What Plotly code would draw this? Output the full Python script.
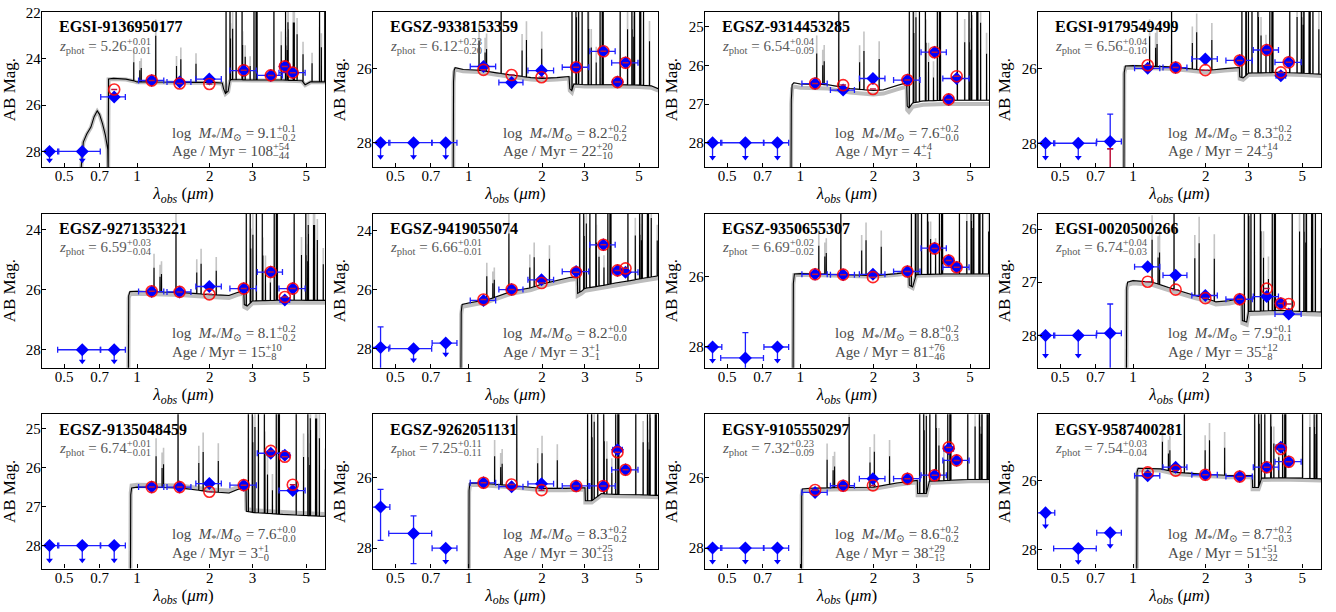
import numpy as np
import plotly.graph_objects as go

# ---------------- data ----------------
filter_names = ["F435W", "F606W", "F814W", "F115W", "F150W", "F200W", "F277W", "F356W", "F410M", "F444W"]
filter_wave = [0.435, 0.594, 0.805, 1.150, 1.500, 1.990, 2.760, 3.570, 4.080, 4.400]
filter_lo = [0.390, 0.470, 0.708, 1.015, 1.330, 1.750, 2.420, 3.140, 3.900, 3.860]
filter_hi = [0.475, 0.705, 0.895, 1.290, 1.670, 2.230, 3.110, 3.990, 4.270, 4.950]

galaxy_ids = ["EGSI-9136950177", "EGSZ-9338153359", "EGSZ-9314453285", "EGSI-9179549499",
              "EGSZ-9271353221", "EGSZ-9419055074", "EGSZ-9350655307", "EGSI-0020500266",
              "EGSZ-9135048459", "EGSZ-9262051131", "EGSY-9105550297", "EGSY-9587400281"]
z_text = ["5.26", "6.12", "6.54", "6.56", "6.59", "6.66", "6.69", "6.74", "6.74", "7.25", "7.32", "7.54"]
z_hi = ["+0.01", "+0.23", "+0.04", "+0.04", "+0.03", "+0.01", "+0.02", "+0.04", "+0.01", "+0.11", "+0.23", "+0.03"]
z_lo = ["−0.01", "−0.20", "−0.09", "−0.10", "−0.04", "−0.01", "−0.02", "−0.03", "−0.01", "−0.11", "−0.09", "−0.04"]
mass_text = ["9.1", "8.2", "7.6", "8.3", "8.1", "8.2", "8.8", "7.9", "7.6", "8.3", "8.6", "8.7"]
mass_hi = ["+0.1", "+0.2", "+0.2", "+0.2", "+0.2", "+0.0", "+0.2", "+0.1", "+0.0", "+0.2", "+0.2", "+0.2"]
mass_lo = ["−0.2", "−0.2", "−0.0", "−0.2", "−0.2", "−0.0", "−0.3", "−0.1", "−0.0", "−0.2", "−0.2", "−0.3"]
age_text = ["108", "22", "4", "24", "15", "3", "81", "35", "3", "30", "38", "51"]
age_hi = ["+54", "+20", "+4", "+14", "+10", "+1", "+76", "+12", "+1", "+25", "+29", "+51"]
age_lo = ["−44", "−10", "−1", "−9", "−8", "−1", "−46", "−8", "−0", "−13", "−15", "−32"]

# observed photometry (AB mag), None = no coverage
obs_mag = [
    [28.0, 28.0, 25.65, 24.94, 25.00, 24.88, 24.51, 24.72, 24.34, 24.60],
    [28.0, 28.0, 28.0, 25.95, 26.38, 26.06, 25.97, 25.54, 26.37, 25.85],
    [28.0, 28.0, 28.0, 26.47, 26.64, 26.34, 26.38, 25.66, 26.88, 26.34],
    [28.0, 28.0, 27.95, 25.99, 25.97, 25.74, 25.78, 25.50, 26.19, 25.83],
    [None, 28.0, 28.0, 26.07, 26.08, 25.90, 25.97, 25.42, 26.35, 25.97],
    [27.96, 28.0, 27.81, 26.36, 25.99, 25.66, 25.38, 24.47, 25.34, 25.40],
    [28.0, 28.31, 28.0, 25.94, 25.95, 25.94, 25.86, 25.20, 25.55, 25.74],
    [28.0, 28.0, 27.96, 26.71, 26.87, 27.25, 27.32, 27.27, 27.40, 27.60],
    [28.0, 28.0, 28.0, 26.50, 26.50, 26.41, 26.45, 25.63, 25.68, 26.59],
    [26.83, 27.58, 28.0, 26.14, 26.25, 26.17, 26.23, 26.23, 25.20, 25.77],
    [28.0, 28.0, 28.0, 26.42, 26.23, 26.03, 26.03, 25.93, 25.18, 25.51],
    [26.94, 27.98, 27.52, 25.86, 25.61, 25.83, 25.88, 25.61, 25.03, 25.45],
]
# 1 = upper limit
obs_uplim = [
    [1, 1, 0, 0, 0, 0, 0, 0, 0, 0],
    [1, 1, 1, 0, 0, 0, 0, 0, 0, 0],
    [1, 1, 1, 0, 0, 0, 0, 0, 0, 0],
    [1, 1, 0, 0, 0, 0, 0, 0, 0, 0],
    [0, 1, 1, 0, 0, 0, 0, 0, 0, 0],
    [0, 1, 1, 0, 0, 0, 0, 0, 0, 0],
    [1, 0, 1, 0, 0, 0, 0, 0, 0, 0],
    [1, 1, 0, 0, 0, 0, 0, 0, 0, 0],
    [1, 1, 1, 0, 0, 0, 0, 0, 0, 0],
    [0, 0, 1, 0, 0, 0, 0, 0, 0, 0],
    [1, 1, 1, 0, 0, 0, 0, 0, 0, 0],
    [1, 1, 1, 0, 0, 0, 0, 0, 0, 0],
]
# errors towards brighter / fainter magnitudes
obs_err_bright = [
    [0, 0, 0.10, 0.05, 0.05, 0.05, 0.05, 0.05, 0.05, 0.05],
    [0, 0, 0, 0.05, 0.05, 0.05, 0.05, 0.05, 0.05, 0.05],
    [0, 0, 0, 0.05, 0.05, 0.05, 0.05, 0.05, 0.05, 0.05],
    [0, 0, 0.73, 0.05, 0.05, 0.05, 0.05, 0.05, 0.05, 0.05],
    [0, 0, 0, 0.05, 0.05, 0.05, 0.05, 0.05, 0.05, 0.05],
    [0.70, 0, 0, 0.05, 0.05, 0.05, 0.05, 0.05, 0.05, 0.05],
    [0, 0.72, 0, 0.05, 0.05, 0.05, 0.05, 0.05, 0.05, 0.05],
    [0, 0, 0.55, 0.05, 0.05, 0.05, 0.05, 0.05, 0.05, 0.05],
    [0, 0, 0, 0.05, 0.05, 0.05, 0.05, 0.05, 0.05, 0.05],
    [0.50, 0.50, 0, 0.05, 0.05, 0.05, 0.05, 0.05, 0.05, 0.05],
    [0, 0, 0, 0.05, 0.05, 0.05, 0.05, 0.05, 0.05, 0.05],
    [0, 0, 0, 0.05, 0.05, 0.05, 0.05, 0.05, 0.05, 0.05],
]
obs_err_faint = [
    [0, 0, 0.10, 0.05, 0.05, 0.05, 0.05, 0.05, 0.05, 0.05],
    [0, 0, 0, 0.05, 0.05, 0.05, 0.05, 0.05, 0.05, 0.05],
    [0, 0, 0, 0.05, 0.05, 0.05, 0.05, 0.05, 0.05, 0.05],
    [0, 0, 0.20, 0.05, 0.05, 0.05, 0.05, 0.05, 0.05, 0.05],
    [0, 0, 0, 0.05, 0.05, 0.05, 0.05, 0.05, 0.05, 0.05],
    [0.90, 0, 0, 0.05, 0.05, 0.05, 0.05, 0.05, 0.05, 0.05],
    [0, 0.80, 0, 0.05, 0.05, 0.05, 0.05, 0.05, 0.05, 0.05],
    [0, 0, 0.80, 0.05, 0.05, 0.05, 0.05, 0.05, 0.05, 0.05],
    [0, 0, 0, 0.05, 0.05, 0.05, 0.05, 0.05, 0.05, 0.05],
    [0.95, 0.86, 0, 0.05, 0.05, 0.05, 0.05, 0.05, 0.05, 0.05],
    [0, 0, 0, 0.05, 0.05, 0.05, 0.05, 0.05, 0.05, 0.05],
    [0, 0, 0, 0.05, 0.05, 0.05, 0.05, 0.05, 0.05, 0.05],
]
# model photometry (red circles)
model_mag = [
    [None, None, 25.33, 24.94, 25.07, 25.09, 24.50, 24.72, 24.33, 24.60],
    [None, None, None, 26.04, 26.18, 26.24, 25.97, 25.54, 26.37, 25.85],
    [None, None, None, 26.47, 26.51, 26.61, 26.38, 25.66, 26.88, 26.28],
    [None, None, 29.40, 25.91, 25.97, 26.04, 25.78, 25.50, 26.10, 25.83],
    [None, None, None, 26.06, 26.08, 26.16, 25.97, 25.42, 26.25, 25.97],
    [None, None, None, 26.33, 25.99, 25.77, 25.40, 24.47, 25.34, 25.27],
    [None, None, None, 25.94, 25.95, 26.02, 25.86, 25.21, 25.55, 25.74],
    [None, None, None, 26.99, 27.14, 27.30, 27.32, 27.12, 27.40, 27.41],
    [None, None, None, 26.50, 26.50, 26.62, 26.45, 25.57, 25.72, 26.44],
    [None, None, None, 26.14, 26.19, 26.35, 26.23, 26.23, 25.27, 25.77],
    [None, None, None, 26.35, 26.23, 26.22, 26.03, 25.93, 25.14, 25.51],
    [None, None, None, 25.76, 25.71, 25.83, 25.88, 25.61, 25.08, 25.45],
]
model_err_bright = [
    [0] * 10, [0] * 10, [0] * 10,
    [0, 0, 1.25, 0, 0, 0, 0, 0, 0, 0],
    [0] * 10, [0] * 10, [0] * 10, [0] * 10, [0] * 10, [0] * 10, [0] * 10, [0] * 10,
]

# best-fit model continuum, knots (um, AB mag)
spec_wave = [
    [0.585, 0.600, 0.620, 0.645, 0.665, 0.685, 0.700, 0.720, 0.740, 0.757, 0.760, 0.763, 0.80, 0.90, 0.97,
     1.00, 1.10, 1.50, 2.00, 2.25, 2.28, 2.32, 2.38, 2.42, 2.45, 3.0, 4.0, 4.8, 4.95, 5.2, 6.0],
    [0.864, 0.867, 0.872, 0.88, 0.95, 1.1, 1.3, 1.5, 1.8, 2.0, 2.3, 2.58, 2.60, 2.65, 2.7, 3.0, 4.0, 5.0, 5.6, 6.0],
    [0.915, 0.918, 0.925, 0.94, 1.0, 1.3, 1.6, 2.0, 2.2, 2.5, 2.74, 2.755, 2.8, 2.9, 3.2, 4.0, 5.0, 6.0],
    [0.917, 0.920, 0.93, 1.0, 1.4, 1.7, 2.0, 2.4, 2.75, 2.76, 2.85, 3.0, 4.0, 5.0, 6.0],
    [0.921, 0.924, 0.935, 1.0, 1.5, 2.0, 2.4, 2.6, 2.76, 2.775, 2.85, 3.0, 4.0, 5.0, 6.0],
    [0.929, 0.932, 0.94, 1.0, 1.2, 1.5, 1.8, 2.0, 2.3, 2.6, 2.79, 2.80, 2.9, 3.0, 4.0, 5.0, 6.0],
    [0.933, 0.936, 0.945, 1.0, 1.5, 2.0, 2.5, 2.80, 2.81, 2.9, 3.0, 4.0, 5.0, 6.0],
    [0.939, 0.942, 0.95, 1.0, 1.2, 1.4, 1.6, 1.8, 2.0, 2.2, 2.5, 2.82, 2.83, 2.95, 3.0, 4.0, 5.0, 6.0],
    [0.939, 0.942, 0.95, 1.0, 1.5, 2.0, 2.4, 2.6, 2.82, 2.83, 3.0, 4.0, 5.0, 6.0],
    [1.001, 1.004, 1.012, 1.1, 1.5, 2.0, 2.5, 3.0, 3.01, 3.2, 3.5, 4.0, 5.0, 6.0],
    [1.010, 1.013, 1.02, 1.1, 1.5, 2.0, 2.5, 3.03, 3.04, 3.3, 3.4, 4.0, 5.0, 6.0],
    [1.036, 1.039, 1.05, 1.3, 1.5, 2.0, 2.5, 3.11, 3.12, 3.3, 3.4, 4.0, 5.0, 6.0],
]
spec_mag = [
    [29.0, 27.6, 27.25, 26.95, 26.5, 26.25, 26.4, 26.8, 27.3, 27.9, 29.0, 24.87, 24.85, 24.88, 24.95,
     25.0, 25.0, 25.02, 25.02, 25.05, 25.3, 25.5, 25.4, 24.95, 24.9, 24.92, 24.92, 24.95, 25.12, 25.0, 25.0],
    [29.0, 26.35, 26.05, 25.98, 26.03, 26.05, 26.12, 26.18, 26.25, 26.27, 26.25, 26.22, 26.55, 26.6, 26.42, 26.44, 26.44, 26.45, 26.47, 26.55],
    [29.0, 26.9, 26.5, 26.45, 26.48, 26.5, 26.6, 26.65, 26.63, 26.52, 26.45, 27.05, 27.1, 26.97, 26.92, 26.9, 26.9, 26.9],
    [29.0, 26.1, 25.93, 25.92, 25.95, 26.0, 26.05, 26.0, 25.97, 26.22, 26.25, 26.12, 26.1, 26.12, 26.15],
    [29.0, 26.2, 26.07, 26.06, 26.1, 26.17, 26.2, 26.1, 26.05, 26.5, 26.55, 26.38, 26.35, 26.36, 26.36],
    [29.0, 26.75, 26.5, 26.45, 26.33, 26.05, 25.93, 25.8, 25.68, 25.58, 25.55, 26.12, 26.05, 25.95, 25.77, 25.63, 25.52],
    [29.0, 26.2, 25.93, 25.92, 25.95, 25.98, 25.92, 25.88, 26.25, 26.3, 25.95, 25.93, 25.93, 25.93],
    [29.0, 27.1, 27.0, 26.97, 27.0, 27.1, 27.18, 27.25, 27.3, 27.37, 27.35, 27.3, 27.72, 27.75, 27.55, 27.53, 27.55, 27.56],
    [29.0, 26.7, 26.52, 26.5, 26.52, 26.62, 26.65, 26.56, 26.5, 27.12, 27.15, 27.2, 27.23, 27.25],
    [29.0, 26.35, 26.15, 26.15, 26.22, 26.3, 26.3, 26.28, 26.65, 26.65, 26.45, 26.47, 26.48, 26.5],
    [29.0, 26.45, 26.32, 26.3, 26.28, 26.27, 26.15, 26.08, 26.45, 26.45, 26.1, 26.08, 26.05, 26.05],
    [29.0, 25.75, 25.64, 25.66, 25.76, 25.82, 25.85, 25.85, 26.2, 26.2, 25.93, 25.92, 25.93, 25.95],
]
# shift of the grey uncertainty band relative to the best fit (mag)
band_shift = [0.02, 0.05, 0.10, 0.05, 0.08, 0.08, 0.03, 0.05, -0.06, 0.05, 0.05, 0.05]

# nebular emission lines: rest wavelength (um) and peak height above continuum (mag)
line_rest_um = [0.1549, 0.1640, 0.1663, 0.1909, 0.2326, 0.2424, 0.2800, 0.3727, 0.3869, 0.3889, 0.3968,
                0.4102, 0.4340, 0.4363, 0.4471, 0.4686, 0.4861, 0.4959, 0.5007, 0.5876, 0.6300, 0.6563,
                0.6583, 0.6678, 0.6716, 0.6731, 0.7065, 0.7136, 0.7325, 0.7751, 0.8446, 0.9069, 0.9229,
                0.9531, 0.9546, 1.0049]
line_strength = [0.8, 0.5, 0.6, 2.0, 0.7, 1.0, 0.8, 4.5, 3.5, 1.8, 2.2,
                 3.0, 3.5, 1.5, 1.0, 0.6, 4.5, 5.5, 6.5, 3.0, 1.5, 6.5,
                 1.5, 1.3, 2.5, 2.2, 2.5, 2.5, 2.0, 1.2, 0.8, 4.5, 1.5,
                 5.0, 2.0, 2.5]

# axis ranges (reversed magnitude axes)
y_bottom = [28.68, 28.66, 28.63, 28.64, 28.60, 28.65, 28.59, 28.61, 28.59, 28.58, 28.58, 28.56]
y_top = [21.98, 24.48, 24.62, 24.48, 23.48, 23.41, 24.22, 25.71, 24.63, 24.19, 24.20, 24.07]
y_dtick = [2, 2, 1, 2, 2, 2, 2, 1, 1, 2, 2, 2]
x_tickvals = [0.5, 0.7, 1, 2, 3, 5]
x_ticktext = ["0.5", "0.7", "1", "2", "3", "5"]
x_min, x_max = 0.405, 5.98

# ---------------- layout geometry (pixels) ----------------
W, H = 1336, 612
col_left = [42, 373, 705, 1038]
col_right = [325, 658, 989, 1321]
row_top = [5, 209, 412]
row_bot = [162, 365, 568]
FONT = "Liberation Serif, DejaVu Serif, serif"
BLUE = "#0000ff"
RED = "rgba(255,0,0,0.85)"


def build_spectrum(cw, cm, z, top, hscale=1.0, boost=0.0, half=0.0008, with_lines=True):
    cw = list(cw)
    cm = list(cm)
    xs, ys = list(cw), list(cm)
    if with_lines:
        obs = np.array(line_rest_um) * (1 + z)
        start = cw[2]
        for lam, h in zip(obs, line_strength):
            if lam <= start * 1.01 or lam >= cw[-1]:
                continue
            for f, dh in ((1 - half, 0.0), (1.0, h * hscale + boost), (1 + half, 0.0)):
                x = lam * f
                xs.append(x)
                # peaks leaving the panel are cut just above its top edge
                ys.append(max(float(np.interp(x, cw, cm)) - dh, top - 0.15))
    order = np.argsort(xs, kind="stable")
    return np.array(xs)[order], np.array(ys)[order]


def T(s):
    return "<span style='color:rgba(0,0,0,0)'>" + s + "</span>"


fig = go.Figure()
layout = dict(width=W, height=H, margin=dict(l=0, r=0, t=0, b=0),
              paper_bgcolor="white", plot_bgcolor="white", showlegend=False,
              font=dict(family=FONT, size=15, color="black"))
annotations = []

for i in range(12):
    r, c = divmod(i, 4)
    sfx = "" if i == 0 else str(i + 1)
    xa, ya = "x" + sfx, "y" + sfx
    z = float(z_text[i])

    axis_common = dict(showline=True, linecolor="black", linewidth=1.3, mirror=True,
                       ticks="inside", ticklen=4, tickwidth=1, tickcolor="black",
                       showgrid=False, zeroline=False, ticklabeloverflow="allow",
                       tickfont=dict(family=FONT, size=15))
    layout["xaxis" + sfx] = dict(axis_common, domain=[col_left[c] / W, col_right[c] / W], anchor=ya,
                                 type="log", range=[np.log10(x_min), np.log10(x_max)],
                                 tickvals=x_tickvals, ticktext=x_ticktext, ticklabelstandoff=-5,
                                 title=dict(text="<i>λ<sub>obs</sub></i> (<i>μm</i>)",
                                            font=dict(family=FONT, size=17), standoff=2))
    layout["yaxis" + sfx] = dict(axis_common, domain=[1 - row_bot[r] / H, 1 - row_top[r] / H], anchor=xa,
                                 range=[y_bottom[i], y_top[i]], dtick=y_dtick[i], tick0=0,
                                 ticklabelstandoff=-3,
                                 title=dict(text="AB Mag.", font=dict(family=FONT, size=17), standoff=6))

    # grey uncertainty band + model spectrum
    bx, by = build_spectrum(spec_wave[i], np.array(spec_mag[i]) + band_shift[i], z, y_top[i], with_lines=False)
    fig.add_trace(go.Scatter(x=bx, y=by, mode="lines", line=dict(color="#bdbdbd", width=4, simplify=False),
                             xaxis=xa, yaxis=ya, hoverinfo="skip"))
    gx, gy = build_spectrum(spec_wave[i], spec_mag[i], z, y_top[i], hscale=1.2, boost=0.3, half=0.0012)
    fig.add_trace(go.Scatter(x=gx, y=gy, mode="lines", line=dict(color="#c4c4c4", width=1.6, simplify=False),
                             xaxis=xa, yaxis=ya, hoverinfo="skip"))
    sx, sy = build_spectrum(spec_wave[i], spec_mag[i], z, y_top[i])
    fig.add_trace(go.Scatter(x=sx, y=sy, mode="lines", line=dict(color="black", width=1.1, simplify=False),
                             xaxis=xa, yaxis=ya, hoverinfo="skip"))

    # observed photometry
    det = [k for k in range(10) if obs_mag[i][k] is not None and not obs_uplim[i][k]]
    ul = [k for k in range(10) if obs_mag[i][k] is not None and obs_uplim[i][k]]
    for idx, is_ul in ((det, False), (ul, True)):
        if not idx:
            continue
        xw = [filter_wave[k] for k in idx]
        ym = [obs_mag[i][k] for k in idx]
        ex = dict(type="data", symmetric=False,
                  array=[filter_hi[k] - filter_wave[k] for k in idx],
                  arrayminus=[filter_wave[k] - filter_lo[k] for k in idx],
                  color="#1f1fff", thickness=1.3, width=3)
        if is_ul:
            ey = dict(type="data", symmetric=False, array=[0.38] * len(idx), arrayminus=[0] * len(idx),
                      color="#1f1fff", thickness=1.3, width=0)
        else:
            ey = dict(type="data", symmetric=False, array=[obs_err_faint[i][k] for k in idx],
                      arrayminus=[obs_err_bright[i][k] for k in idx],
                      color="#1f1fff", thickness=1.3, width=3)
        fig.add_trace(go.Scatter(x=xw, y=ym, mode="markers", error_x=ex, error_y=ey,
                                 marker=dict(symbol="diamond", size=10, color=BLUE),
                                 xaxis=xa, yaxis=ya, hoverinfo="skip"))
        if is_ul:
            fig.add_trace(go.Scatter(x=xw, y=[m + 0.38 for m in ym], mode="markers",
                                     marker=dict(symbol="triangle-down", size=6, color=BLUE),
                                     xaxis=xa, yaxis=ya, hoverinfo="skip"))

    # model photometry
    mk = [k for k in range(10) if model_mag[i][k] is not None]
    fig.add_trace(go.Scatter(x=[filter_wave[k] for k in mk], y=[model_mag[i][k] for k in mk],
                             mode="markers",
                             error_y=dict(type="data", symmetric=False, array=[0] * len(mk),
                                          arrayminus=[model_err_bright[i][k] for k in mk],
                                          color="#c0143c", thickness=1.5, width=3),
                             marker=dict(symbol="circle-open", size=11, color=RED, line=dict(width=1.6)),
                             xaxis=xa, yaxis=ya, hoverinfo="skip"))

    # texts
    L, B, Tp = col_left[c], row_bot[r], row_top[r]
    annotations.append(dict(x=(L + 15) / W, y=1 - (Tp + 15) / H, xref="paper", yref="paper",
                            xanchor="left", yanchor="middle", showarrow=False,
                            text="<b>" + galaxy_ids[i] + "</b>",
                            font=dict(family=FONT, size=16, color="black")))

    def scripted(main, sup, sub, x, y, color):
        a = main + "<sup>" + sup + "</sup><sub>" + T(sub) + "</sub>"
        b = T(main) + "<sub>" + sub + "</sub><sup>" + T(sup) + "</sup>"
        for txt in (a, b):
            annotations.append(dict(x=x, y=y, xref="paper", yref="paper", xanchor="left",
                                    yanchor="middle", showarrow=False, text=txt,
                                    font=dict(family=FONT, size=15, color=color)))

    scripted("<i>z</i><sub>phot</sub> = " + z_text[i], z_hi[i], z_lo[i],
             (L + 15) / W, 1 - (Tp + 34) / H, "#5a5a5a")
    scripted("log  <i>M</i><sub>*</sub>/<i>M</i><sub>⊙</sub> = " + mass_text[i], mass_hi[i], mass_lo[i],
             (L + 128) / W, 1 - (B - 35) / H, "#4a4a4a")
    scripted("Age / Myr = " + age_text[i], age_hi[i], age_lo[i],
             (L + 128) / W, 1 - (B - 16) / H, "#4a4a4a")

layout["annotations"] = annotations
fig.update_layout(**layout)
fig.write_html("out.html", config={"displayModeBar": False},
               post_script="document.body.style.margin='0';document.body.style.padding='0';"
                           "document.documentElement.style.overflow='hidden';")
